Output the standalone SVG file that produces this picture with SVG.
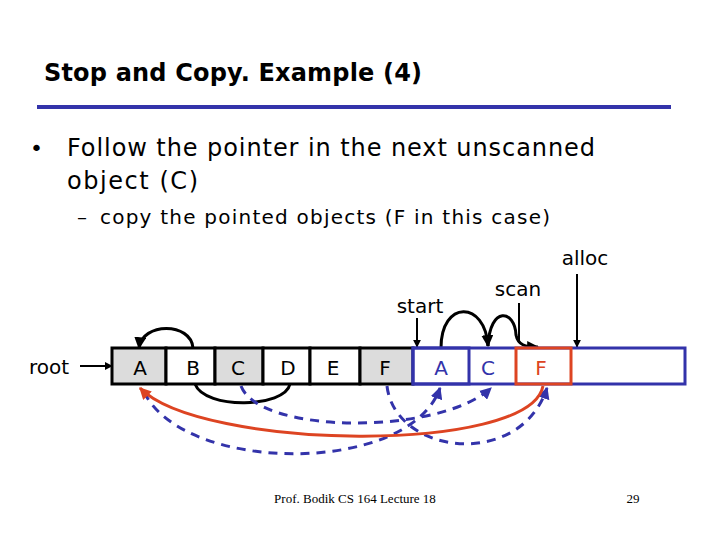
<svg xmlns="http://www.w3.org/2000/svg" width="720" height="540" viewBox="0 0 720 540">
<defs>
<style>
text{font-family:"DejaVu Sans","Noto Sans",sans-serif;}
.c{font-size:20px;text-anchor:middle;}
.k{fill:none;stroke:#000;stroke-width:3;}
.d{fill:none;stroke:#3333aa;stroke-width:3;stroke-dasharray:9,7;}
</style>
<marker id="ak" viewBox="0 0 10 10" refX="9" refY="5" markerWidth="4" markerHeight="4" orient="auto"><path d="M0,0L10,5L0,10z" fill="#000"/></marker>
<marker id="ab" viewBox="0 0 10 10" refX="9" refY="5" markerWidth="4" markerHeight="4" orient="auto"><path d="M0,0L10,5L0,10z" fill="#3333aa"/></marker>
<marker id="ar" viewBox="0 0 10 10" refX="9" refY="5" markerWidth="4" markerHeight="4" orient="auto"><path d="M0,0L10,5L0,10z" fill="#dd4422"/></marker>
</defs>
<rect width="720" height="540" fill="#fff"/>
<text x="44" y="81" font-size="24" font-weight="bold" textLength="378" lengthAdjust="spacing">Stop and Copy. Example (4)</text>
<rect x="37" y="105" width="634" height="4" fill="#3333aa"/>
<text x="30" y="156" font-size="22">•</text>
<text x="67" y="156" font-size="24" textLength="528" lengthAdjust="spacing">Follow the pointer in the next unscanned</text>
<text x="67" y="189" font-size="24" textLength="131" lengthAdjust="spacing">object (C)</text>
<text x="77" y="224" font-size="20">–</text>
<text x="100" y="224" font-size="20" textLength="450" lengthAdjust="spacing">copy the pointed objects (F in this case)</text>
<text x="585" y="265" class="c">alloc</text>
<text x="518" y="296" class="c">scan</text>
<text x="420" y="313" class="c">start</text>
<text x="49" y="374" class="c">root</text>
<g id="connectors">
<line x1="80" y1="366" x2="112" y2="366" stroke="#000" stroke-width="2" marker-end="url(#ak)"/>
<line x1="417" y1="318" x2="417" y2="347" stroke="#000" stroke-width="2" marker-end="url(#ak)"/>
<line x1="519" y1="303" x2="519" y2="343" stroke="#000" stroke-width="2"/>
<line x1="577" y1="274" x2="577" y2="347" stroke="#000" stroke-width="2" marker-end="url(#ak)"/>
<path class="k" d="M193,348 C191,322 142,322 139,348" marker-end="url(#ak)"/>
<path class="k" d="M195,384 C205,410 285,408 290,384"/>
<path class="k" d="M441,348 C441,300 485,300 488,346" marker-end="url(#ak)"/>
<path class="k" d="M488,346 C490,305 515,310 516,335 C518,345 525,347 538,347" marker-end="url(#ak)"/>
<path class="d" d="M241,386 C260,435 440,435 491,388" marker-end="url(#ab)"/>
<path class="d" d="M387,386 C395,455 520,470 547,388" marker-end="url(#ab)"/>
<path class="d" d="M144,392 C185,475 410,475 440,388" marker-end="url(#ab)"/>
<path d="M543,386 C530,455 200,450 140,388" fill="none" stroke="#dd4422" stroke-width="3" marker-end="url(#ar)"/>
</g>
<g id="fromspace" stroke="#000" stroke-width="3">
<rect x="112" y="348" width="54" height="36" fill="#dcdcdc"/>
<rect x="166" y="348" width="49" height="36" fill="#fff"/>
<rect x="215" y="348" width="48" height="36" fill="#dcdcdc"/>
<rect x="263" y="348" width="47" height="36" fill="#fff"/>
<rect x="310" y="348" width="50" height="36" fill="#fff"/>
<rect x="360" y="348" width="53" height="36" fill="#dcdcdc"/>
</g>
<g id="tospace" fill="none" stroke="#3333aa" stroke-width="3">
<rect x="413" y="348" width="272" height="36" fill="#fff"/>
<rect x="413" y="348" width="56" height="36"/>
<rect x="516" y="348" width="55" height="36" stroke="#dd4422"/>
</g>
<g id="labels">
<text x="140" y="375" class="c">A</text>
<text x="193" y="375" class="c">B</text>
<text x="238" y="375" class="c">C</text>
<text x="288" y="375" class="c">D</text>
<text x="333" y="375" class="c">E</text>
<text x="385" y="375" class="c">F</text>
<text x="441" y="375" class="c" fill="#3333aa">A</text>
<text x="488" y="375" class="c" fill="#3333aa">C</text>
<text x="541" y="375" class="c" fill="#dd4422">F</text>
</g>
<text x="355" y="503" font-size="13" text-anchor="middle" style="font-family:'Liberation Serif',serif">Prof. Bodik  CS 164  Lecture 18</text>
<text x="633" y="503" font-size="13" text-anchor="middle" style="font-family:'Liberation Serif',serif">29</text>
</svg>
